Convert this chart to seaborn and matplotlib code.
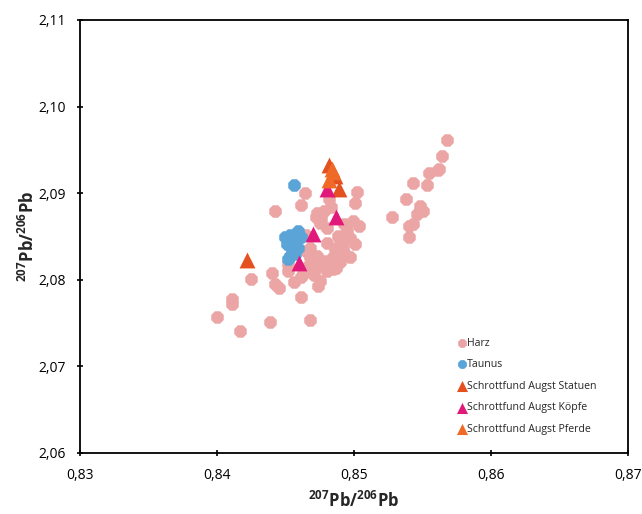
import pandas as pd
import matplotlib.pyplot as plt
import seaborn as sns
from matplotlib.ticker import FuncFormatter

# 207Pb/206Pb vs 208Pb/206Pb
harz_x = [0.8568, 0.8564, 0.8561, 0.8555, 0.8543, 0.8553, 0.8538, 0.8548, 0.8546,
          0.8543, 0.8540, 0.8528, 0.8540,
          0.8464, 0.8502, 0.8461, 0.8442, 0.8501, 0.8473, 0.8478, 0.8482, 0.8472,
          0.8475, 0.8499, 0.8504, 0.8495, 0.8490, 0.8492, 0.8486, 0.8480, 0.8468,
          0.8468, 0.8473, 0.8472, 0.8482, 0.8487, 0.8480, 0.8475, 0.8474, 0.8461,
          0.8456, 0.8452, 0.8452, 0.8440, 0.8442, 0.8445, 0.8425, 0.8461, 0.8411,
          0.8411, 0.8400, 0.8417, 0.8439, 0.8468, 0.8480, 0.8485, 0.8497, 0.8465,
          0.8463, 0.8497, 0.8501, 0.8488, 0.8470, 0.8466, 0.8478, 0.8490, 0.8493,
          0.8488, 0.8483, 0.8476, 0.8494, 0.8466, 0.8485, 0.8471, 0.8458, 0.8562,
          0.8550]
harz_y = [2.0961, 2.0943, 2.0927, 2.0923, 2.0912, 2.0910, 2.0893, 2.0885, 2.0876,
          2.0864, 2.0862, 2.0873, 2.0849,
          2.0900, 2.0901, 2.0886, 2.0879, 2.0889, 2.0877, 2.0879, 2.0893, 2.0872,
          2.0866, 2.0868, 2.0862, 2.0856, 2.0845, 2.0837, 2.0835, 2.0843, 2.0837,
          2.0826, 2.0828, 2.0814, 2.0818, 2.0814, 2.0810, 2.0799, 2.0793, 2.0803,
          2.0797, 2.0810, 2.0818, 2.0808, 2.0795, 2.0791, 2.0801, 2.0780, 2.0778,
          2.0772, 2.0757, 2.0741, 2.0751, 2.0753, 2.0860, 2.0826, 2.0826, 2.0852,
          2.0807, 2.0848, 2.0841, 2.0830, 2.0820, 2.0815, 2.0822, 2.0820, 2.0865,
          2.0851, 2.0884, 2.0870, 2.0829, 2.0832, 2.0812, 2.0806, 2.0836, 2.0928,
          2.0880]

taunus_x = [0.8456, 0.8450, 0.8453, 0.8459, 0.8461, 0.8457, 0.8451, 0.8455, 0.8459,
            0.8453, 0.8457, 0.8452]
taunus_y = [2.0910, 2.0849, 2.0852, 2.0856, 2.0849, 2.0843, 2.0841, 2.0835, 2.0837,
            2.0828, 2.0830, 2.0824]

statuen_x = [0.8422, 0.8482, 0.8486, 0.8489]
statuen_y = [2.0823, 2.0932, 2.0920, 2.0905]

koepfe_x = [0.8480, 0.8487, 0.8470, 0.8460]
koepfe_y = [2.0905, 2.0872, 2.0853, 2.0819]

pferde_x = [0.8484, 0.8482, 0.8485]
pferde_y = [2.0928, 2.0915, 2.0925]

groups = ["Harz", "Taunus", "Schrottfund Augst Statuen",
          "Schrottfund Augst Köpfe", "Schrottfund Augst Pferde"]
colors = ["#eca5a5", "#5ba4d8", "#e4501f", "#e0197b", "#ef6a26"]
markers = ["8", "8", "^", "^", "^"]
sizes = [95, 95, 130, 130, 130]

xs = [harz_x, taunus_x, statuen_x, koepfe_x, pferde_x]
ys = [harz_y, taunus_y, statuen_y, koepfe_y, pferde_y]

df = pd.concat(
    [pd.DataFrame({"x": x, "y": y, "group": g}) for x, y, g in zip(xs, ys, groups)],
    ignore_index=True,
)

sns.set_style("white")
plt.rcParams["font.family"] = ["Open Sans", "DejaVu Sans"]
plt.rcParams["mathtext.default"] = "regular"

fig = plt.figure(figsize=(6.42, 5.14), dpi=100)
ax = fig.add_axes([0.1246, 0.1187, 0.8536, 0.8424])

for g, c, m, s in zip(groups, colors, markers, sizes):
    sns.scatterplot(
        data=df[df["group"] == g], x="x", y="y", color=c, marker=m, s=s,
        linewidth=0, ax=ax, label=g,
    )

ax.set_xlim(0.83, 0.87)
ax.set_ylim(2.06, 2.11)
ax.set_xticks([0.83, 0.84, 0.85, 0.86, 0.87])
ax.set_yticks([2.06, 2.07, 2.08, 2.09, 2.10, 2.11])
ax.xaxis.set_major_formatter(FuncFormatter(lambda v, p: f"{v:.2f}".replace(".", ",")))
ax.yaxis.set_major_formatter(FuncFormatter(lambda v, p: f"{v:.2f}".replace(".", ",")))
ax.tick_params(direction="inout", length=5, width=1.2, labelsize=10,
               colors="black", pad=8, bottom=True, left=True)

for sp in ax.spines.values():
    sp.set_color("black")
    sp.set_linewidth(1.3)

ax.set_xlabel(r"$^{207}$Pb/$^{206}$Pb", fontsize=12, fontweight="bold", labelpad=6)
ax.set_ylabel(r"$^{207}$Pb/$^{206}$Pb", fontsize=12, fontweight="bold", labelpad=0)

leg = ax.legend(loc="lower right", bbox_to_anchor=(0.96, 0.02), frameon=False,
                fontsize=7.6, handletextpad=0.0, labelspacing=1.0,
                markerscale=0.7, handlelength=1.0)

fig.savefig("out.png", dpi=100)
